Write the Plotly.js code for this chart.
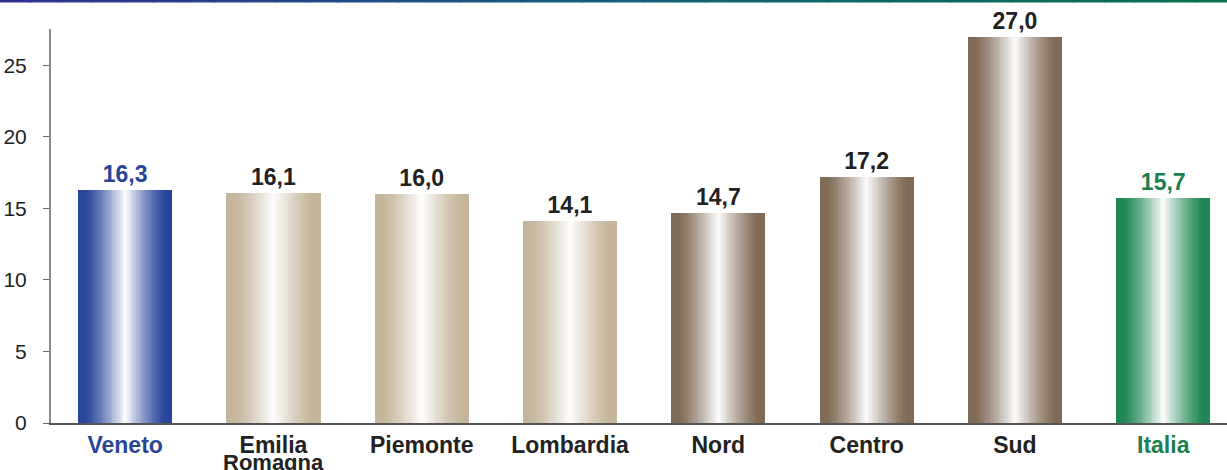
<!DOCTYPE html>
<html>
<head>
<meta charset="utf-8">
<script src="https://cdn.plot.ly/plotly-3.0.1.min.js"></script>
<style>html,body{margin:0;padding:0;background:#fff;}#chart{width:1227px;height:470px;}
#chart .point path{shape-rendering:crispEdges;}</style>
</head>
<body>
<div id="chart"></div>
<script>
// ---- data ----
var categories = ["Veneto", "Emilia Romagna", "Piemonte", "Lombardia", "Nord", "Centro", "Sud", "Italia"];
var tickLabels = ["Veneto", "Emilia", "Piemonte", "Lombardia", "Nord", "Centro", "Sud", "Italia"];
var secondLine = ["", "Romagna", "", "", "", "", "", ""];
var values = [16.3, 16.1, 16.0, 14.1, 14.7, 17.2, 27.0, 15.7];
var yTicks = [0, 5, 10, 15, 20, 25];

// ---- styles ----
var barColors = ["#27459a", "#c4b59b", "#c4b59b", "#c4b59b", "#7f6a56", "#7f6a56", "#7f6a56", "#1e8753"];
var labelColors = ["#2a4596", "#222222", "#222222", "#222222", "#222222", "#222222", "#222222", "#1a8050"];
var FONT = 'Liberation Sans, Arial, sans-serif';

function hexToRgb(h){h=h.replace('#','');return [parseInt(h.substr(0,2),16),parseInt(h.substr(2,2),16),parseInt(h.substr(4,2),16)];}
function mix(a,b,t){var A=hexToRgb(a),B=hexToRgb(b);return 'rgb('+A.map(function(v,i){return Math.round(v+(B[i]-v)*t);}).join(',')+')';}

var W = 0.635;
var N = 26;
var traces = [];
for (var k = 0; k < N; k++) {
  var s = k / (N - 1);
  var m = Math.pow(Math.max(0, (s - 0.12) / 0.88), 1.3) * 0.96;
  var w = W * (1 - k / N);
  var tr = {
    type: 'bar',
    x: categories,
    y: values,
    width: categories.map(function(){return w;}),
    marker: {color: barColors.map(function(c){return mix(c, '#ffffff', m);}), line: {width: 0}},
    hoverinfo: 'skip',
    cliponaxis: false
  };
  if (k === 0) {
    tr.texttemplate = '%{y:.1f}';
    tr.textposition = 'outside';
    tr.textfont = {family: FONT, size: 23, weight: 'bold', color: labelColors};
  } else {
    tr.textposition = 'none';
  }
  traces.push(tr);
}

// top decorative gradient line
var shapes = [];
var segs = 40;
var plotLeft = 51, plotW = 1176, plotTop = 29, plotH = 394;
for (var i = 0; i < segs; i++) {
  var t = i / (segs - 1);
  var col = t < 0.5 ? mix('#2e318f', '#175f7c', t * 2) : mix('#175f7c', '#0a7050', (t - 0.5) * 2);
  var px0 = 1227 * i / segs - 0.5, px1 = 1227 * (i + 1) / segs + 0.5;
  shapes.push({
    type: 'rect', xref: 'paper', yref: 'paper',
    x0: (px0 - plotLeft) / plotW, x1: (px1 - plotLeft) / plotW,
    y0: (plotTop + plotH - 2.5) / plotH, y1: (plotTop + plotH + 1) / plotH,
    fillcolor: col, line: {width: 0}, layer: 'above'
  });
}

var annotations = [];
categories.forEach(function(c, i){
  if (secondLine[i]) {
    annotations.push({
      x: c, xref: 'x', y: 0, yref: 'paper', yanchor: 'top', yshift: -26,
      text: secondLine[i], showarrow: false, borderpad: 0,
      font: {family: FONT, size: 22, weight: 'bold', color: labelColors[i]}
    });
  }
});

var layout = {
  width: 1227, height: 470,
  margin: {l: plotLeft, r: 1227 - plotLeft - plotW, t: plotTop, b: 470 - plotTop - plotH, pad: 0},
  paper_bgcolor: '#ffffff', plot_bgcolor: '#ffffff',
  barmode: 'overlay',
  showlegend: false,
  hovermode: false,
  separators: ',.',
  shapes: shapes,
  annotations: annotations,
  xaxis: {
    type: 'category',
    range: [-0.5, 7.43],
    tickvals: categories,
    ticktext: tickLabels.map(function(t, i){return '<span style="color:' + labelColors[i] + '">' + t + '</span>';}),
    tickfont: {family: FONT, size: 23, weight: 'bold', color: '#222'},
    ticks: '', ticklen: 0,
    showline: true, linecolor: '#555555', linewidth: 2,
    showgrid: false, zeroline: false,
    ticklabelstandoff: 0
  },
  yaxis: {
    range: [0, 27.55],
    tickvals: yTicks,
    ticktext: yTicks.map(String),
    tickfont: {family: FONT, size: 21, color: '#222'},
    ticks: 'outside', ticklen: 6, tickcolor: '#666', tickwidth: 1,
    showline: true, linecolor: '#888888', linewidth: 2,
    showgrid: false, zeroline: false,
    ticklabelstandoff: 12
  }
};

Plotly.newPlot('chart', traces, layout, {displayModeBar: false, staticPlot: true});
</script>
</body>
</html>
